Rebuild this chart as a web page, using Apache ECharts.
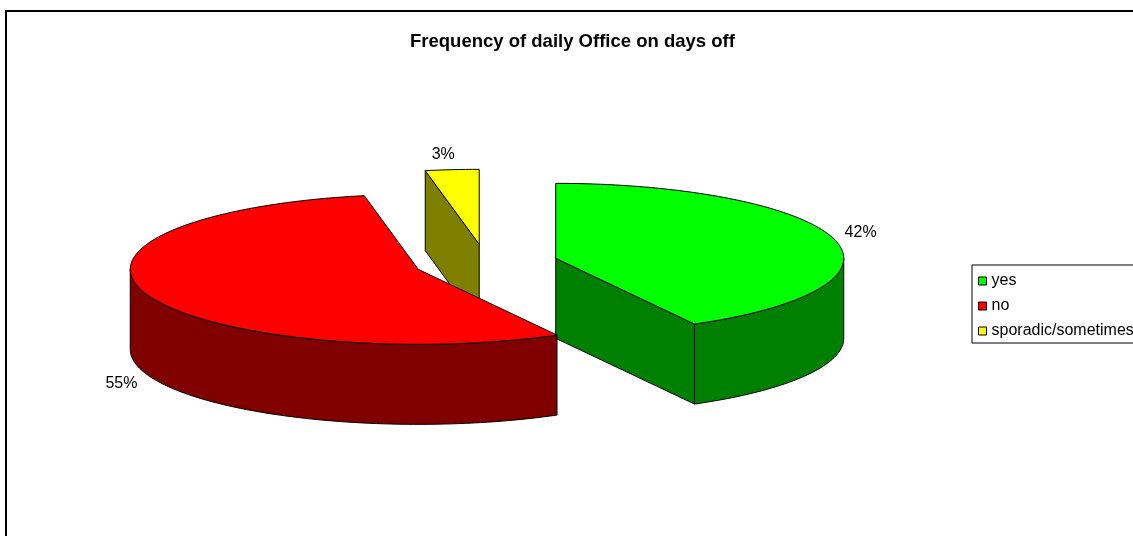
<!DOCTYPE html>
<html><head><meta charset="utf-8">
<script src="https://cdn.jsdelivr.net/npm/echarts@6/dist/echarts.min.js"></script>
<style>html,body{margin:0;padding:0;background:#fff}#c{width:1133px;height:536px}</style>
</head><body><div id="c"></div>
<script>
// ---- data ----
const categories = ['yes', 'no', 'sporadic/sometimes'];
const values = [42, 55, 3];
const titleText = 'Frequency of daily Office on days off';

// ---- styles ----
const topColors = ['#00ff00', '#ff0000', '#ffff00'];
const sideColors = ['#008000', '#800000', '#808000'];
const FONT = '"Liberation Sans", Arial, sans-serif';

// ---- 3D pie geometry (pixels) ----
const CX = 486, CY = 263, RX = 288, RY = 75, DEPTH = 80, EXPLODE = 0.25;

const total = values.reduce((a, b) => a + b, 0);
const cum = [0];
values.forEach((v, i) => cum.push(cum[i] + v));

function pt(c, th, dy) { return [c[0] + RX * Math.sin(th), c[1] - RY * Math.cos(th) + (dy || 0)]; }
function arc(c, a, b, dy) {
  const n = Math.max(2, Math.ceil((b - a) / (Math.PI / 120)));
  const out = [];
  for (let k = 0; k <= n; k++) out.push(pt(c, a + (b - a) * k / n, dy));
  return out;
}

function renderSlice(i) {
  return function (params, api) {
    const v = api.value(0);
    const a = cum[i] / total * 2 * Math.PI;
    const b = a + v / total * 2 * Math.PI;
    const m = (a + b) / 2;
    const c = [CX + EXPLODE * RX * Math.sin(m), CY - EXPLODE * RY * Math.cos(m)];
    const line = { stroke: '#000', lineWidth: 1, lineJoin: 'round' };
    const side = Object.assign({ fill: sideColors[i] }, line);
    const eps = 1e-6;
    const children = [];
    function cutFace(th) {
      const r = pt(c, th, 0);
      children.push({ type: 'polygon', z2: 1, shape: { points: [c, r, [r[0], r[1] + DEPTH], [c[0], c[1] + DEPTH]] }, style: side });
    }
    if (Math.sin(a) < -eps) cutFace(a);
    if (Math.sin(b) > eps) cutFace(b);
    const wa = Math.max(a, Math.PI / 2), wb = Math.min(b, 3 * Math.PI / 2);
    if (wb > wa) {
      const top = arc(c, wa, wb, 0);
      const bot = arc(c, wa, wb, DEPTH).reverse();
      children.push({ type: 'polygon', z2: 2, shape: { points: top.concat(bot) }, style: side });
    }
    children.push({ type: 'polygon', z2: 3, shape: { points: [c].concat(arc(c, a, b, 0)) }, style: Object.assign({ fill: topColors[i] }, line) });
    // data label
    const front = Math.cos(m) < 0;
    const anc = pt(c, m, front ? DEPTH : 0);
    let dx = RX * Math.sin(m), dy = -RY * Math.cos(m);
    const L = Math.hypot(dx, dy); dx /= L; dy /= L;
    const lx = anc[0] + dx * 26;
    const ly = anc[1] + dy * 16 + (dy >= 0 ? 8 : -6) * (1 - Math.abs(dy));
    children.push({ type: 'text', z2: 4, x: lx, y: ly,
      style: { text: Math.round(v / total * 100) + '%', fill: '#000', fontSize: 16, fontFamily: FONT, align: 'center', verticalAlign: 'middle' } });
    return { type: 'group', children: children };
  };
}

const chart = echarts.init(document.getElementById('c'), null, { renderer: 'canvas' });
chart.setOption({
  animation: false,
  backgroundColor: '#fff',
  title: {
    text: titleText, left: 405, top: 27,
    textStyle: { fontSize: 18.5, fontWeight: 'bold', fontFamily: FONT, color: '#000' }
  },
  legend: {
    orient: 'vertical', left: 972, top: 265, data: categories,
    icon: 'rect', itemWidth: 8, itemHeight: 8, itemGap: 9,
    padding: [8, 12, 4, 6], borderColor: '#000', borderWidth: 1, borderRadius: 0,
    selectedMode: false,
    textStyle: { fontSize: 16, fontFamily: FONT, color: '#000', lineHeight: 16 },
    itemStyle: { borderColor: '#000', borderWidth: 1 }
  },
  graphic: [{
    type: 'rect', z: -10, silent: true,
    shape: { x: 6, y: 11, width: 1300, height: 700 },
    style: { fill: 'none', stroke: '#000', lineWidth: 2 }
  }],
  series: categories.map((name, i) => ({
    type: 'custom', name: name, coordinateSystem: 'none',
    itemStyle: { color: topColors[i] },
    data: [[values[i]]],
    renderItem: renderSlice(i),
    silent: true
  }))
});
</script></body></html>
